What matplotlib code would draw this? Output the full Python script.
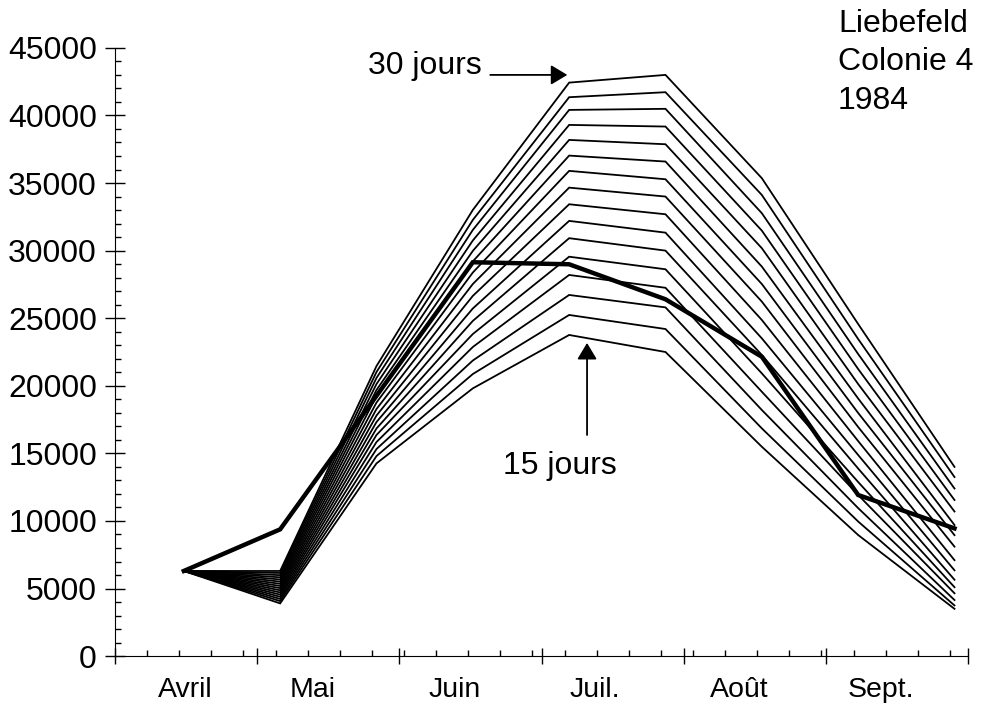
import matplotlib.pyplot as plt
from matplotlib.ticker import MultipleLocator

plt.rcParams['font.family'] = ['Liberation Sans', 'DejaVu Sans']

# jours comptés depuis le 1er avril (relevés toutes les 3 semaines)
jours = [15, 36, 57, 78, 99, 120, 141, 162, 183]

# population observée (trait épais)
obs_jours = [15, 36, 78, 99, 120, 141, 162, 183]
obs_valeurs = [6300, 9380, 29140, 28990, 26400, 22150, 11920, 9450]

# populations calculées selon la durée de vie des abeilles
jours_30 = [6300, 6300, 21460, 33010, 42430, 43000, 35360, 24570, 14000]
jours_29 = [6300, 6150, 21020, 32270, 41350, 41720, 34120, 23460, 13250]
jours_28 = [6300, 5990, 20580, 31530, 40410, 40490, 32770, 22350, 12400]
jours_27 = [6300, 5830, 20130, 30750, 39300, 39180, 31480, 21240, 11550]
jours_26 = [6300, 5670, 19690, 29980, 38190, 37870, 30180, 20130, 10700]
jours_25 = [6300, 5510, 19240, 29200, 37030, 36590, 28820, 19060, 9700]
jours_24 = [6300, 5350, 18760, 28380, 35900, 35280, 27530, 17990, 8950]
jours_23 = [6300, 5190, 18280, 27530, 34660, 34000, 26230, 16950, 8100]
jours_22 = [6300, 5030, 17800, 26650, 33430, 32690, 24870, 15910, 7100]
jours_21 = [6300, 4870, 17320, 25720, 32200, 31330, 23510, 14880, 6350]
jours_20 = [6300, 4710, 16840, 24800, 30920, 30000, 22280, 13880, 5650]
jours_19 = [6300, 4550, 16360, 23830, 29550, 28620, 20920, 12880, 5100]
jours_18 = [6300, 4390, 15840, 22870, 28200, 27250, 19560, 11920, 4650]
jours_17 = [6300, 4230, 15320, 21870, 26720, 25800, 18210, 10950, 4150]
jours_16 = [6300, 4070, 14800, 20870, 25240, 24200, 16850, 9960, 3750]
jours_15 = [6300, 3900, 14260, 19810, 23760, 22500, 15490, 8960, 3500]

courbes = [jours_30, jours_29, jours_28, jours_27, jours_26, jours_25,
           jours_24, jours_23, jours_22, jours_21, jours_20, jours_19,
           jours_18, jours_17, jours_16, jours_15]

mois = ['Avril', 'Mai', 'Juin', 'Juil.', 'Août', 'Sept.']
mois_pos = [15.3, 43, 74.1, 104.7, 136.1, 167]

fig = plt.figure(figsize=(9.83, 7.04), dpi=100)
ax = fig.add_axes([0.117, 0.068, 0.868, 0.864])

for c in courbes:
    ax.plot(jours, c, color='black', lw=1.3, solid_joinstyle='miter')
ax.plot(obs_jours, obs_valeurs, color='black', lw=3.2, solid_joinstyle='miter')

ax.set_xlim(0, 186)
ax.set_ylim(0, 45000)
ax.spines['top'].set_visible(False)
ax.spines['right'].set_visible(False)

# axe x : limites des mois + semaines
ax.set_xticks(range(0, 187, 31))
ax.set_xticklabels([])
ax.xaxis.set_minor_locator(MultipleLocator(7))
ax.tick_params(axis='x', which='major', direction='inout', length=12, width=1)
ax.tick_params(axis='x', which='minor', direction='in', length=4, width=1)
for nom, p in zip(mois, mois_pos):
    ax.text(p, -0.056, nom, transform=ax.get_xaxis_transform(),
            ha='center', va='center', fontsize=20.5)

# axe y
ax.yaxis.set_major_locator(MultipleLocator(5000))
ax.yaxis.set_minor_locator(MultipleLocator(1000))
ax.tick_params(axis='y', which='major', direction='inout', length=14, width=1,
               pad=6, labelsize=23)
ax.tick_params(axis='y', which='minor', direction='in', length=4, width=1)

# annotations
ax.annotate('', xy=(98.6, 43000), xytext=(81.8, 43000),
            arrowprops=dict(arrowstyle='-|>,head_length=0.5,head_width=0.3',
                            color='black', lw=1.3, mutation_scale=20,
                            shrinkA=0, shrinkB=0))
ax.text(80.0, 43650, '30 jours', ha='right', va='center', fontsize=23)

ax.annotate('', xy=(102.9, 23170), xytext=(102.9, 16360),
            arrowprops=dict(arrowstyle='-|>,head_length=0.5,head_width=0.3',
                            color='black', lw=1.3, mutation_scale=20,
                            shrinkA=0, shrinkB=0))
ax.text(97.0, 14060, '15 jours', ha='center', va='center', fontsize=23)

fig.text(0.8525, 1 - 9 / 704, 'Liebefeld\nColonie 4\n1984', ha='left', va='top',
         fontsize=23, linespacing=1.36)

fig.savefig('out.png', dpi=100, facecolor='white')
